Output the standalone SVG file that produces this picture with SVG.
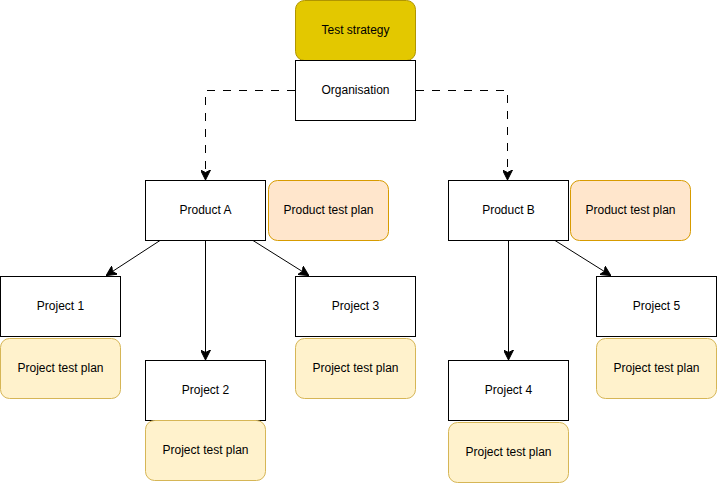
<svg xmlns="http://www.w3.org/2000/svg" width="717" height="483" viewBox="0 0 717 483">
<defs>
<style>
.box{fill:#ffffff;stroke:#000000;stroke-width:1}
.strat{fill:#e3c800;stroke:#b09500;stroke-width:1}
.prod{fill:#ffe6cc;stroke:#d79b00;stroke-width:1}
.proj{fill:#fff2cc;stroke:#d6b656;stroke-width:1}
text{font-family:"Liberation Sans",Arial,sans-serif;font-size:12px;fill:#000000;text-anchor:middle;dominant-baseline:central}
.edge{fill:none;stroke:#000000;stroke-width:1}
.dash{stroke-dasharray:8 8}
</style>
<marker id="arr" viewBox="0 0 10 10" refX="9" refY="5" markerWidth="10" markerHeight="10" markerUnits="userSpaceOnUse" orient="auto">
<path d="M0,0 L10,5 L0,10 L2.5,5 Z" fill="#000000" stroke="#000000" stroke-width="1"/>
</marker>
</defs>
<rect width="717" height="483" fill="#ffffff"/>
<g id="connectors">
<path class="edge dash" d="M295,90.5 H205.5 V179" marker-end="url(#arr)"/>
<path class="edge dash" d="M416,90.5 H507.5 V179" marker-end="url(#arr)"/>
<path class="edge" d="M160,240.5 L107,275" marker-end="url(#arr)"/>
<path class="edge" d="M205.5,240.5 V359" marker-end="url(#arr)"/>
<path class="edge" d="M253,240.5 L308,275" marker-end="url(#arr)"/>
<path class="edge" d="M508.5,240.5 V359" marker-end="url(#arr)"/>
<path class="edge" d="M555,240.5 L610,275" marker-end="url(#arr)"/>
</g>
<g id="test-strategy"><rect class="strat" x="295.5" y="0.5" width="120" height="60" rx="9"/><text x="355.5" y="29.5">Test strategy</text></g>
<g id="organisation"><rect class="box" x="295.5" y="60.5" width="120" height="60"/><text x="355.5" y="89.5">Organisation</text></g>
<g id="product-a"><rect class="box" x="145.5" y="180.5" width="120" height="60"/><text x="205.5" y="209.5">Product A</text></g>
<g id="product-a-plan"><rect class="prod" x="268.5" y="180.5" width="120" height="60" rx="9"/><text x="328.5" y="209.5">Product test plan</text></g>
<g id="project-1"><rect class="box" x="0.5" y="276.5" width="120" height="60"/><text x="60.5" y="305.5">Project 1</text></g>
<g id="project-1-plan"><rect class="proj" x="0.5" y="338.5" width="120" height="60" rx="9"/><text x="60.5" y="367.5">Project test plan</text></g>
<g id="project-2"><rect class="box" x="145.5" y="360.5" width="120" height="60"/><text x="205.5" y="389.5">Project 2</text></g>
<g id="project-2-plan"><rect class="proj" x="145.5" y="420.5" width="120" height="60" rx="9"/><text x="205.5" y="449.5">Project test plan</text></g>
<g id="project-3"><rect class="box" x="295.5" y="276.5" width="120" height="60"/><text x="355.5" y="305.5">Project 3</text></g>
<g id="project-3-plan"><rect class="proj" x="295.5" y="338.5" width="120" height="60" rx="9"/><text x="355.5" y="367.5">Project test plan</text></g>
<g id="product-b"><rect class="box" x="448.5" y="180.5" width="120" height="60"/><text x="508.5" y="209.5">Product B</text></g>
<g id="product-b-plan"><rect class="prod" x="570.5" y="180.5" width="120" height="60" rx="9"/><text x="630.5" y="209.5">Product test plan</text></g>
<g id="project-4"><rect class="box" x="448.5" y="360.5" width="120" height="60"/><text x="508.5" y="389.5">Project 4</text></g>
<g id="project-4-plan"><rect class="proj" x="448.5" y="422.5" width="120" height="60" rx="9"/><text x="508.5" y="451.5">Project test plan</text></g>
<g id="project-5"><rect class="box" x="596.5" y="276.5" width="120" height="60"/><text x="656.5" y="305.5">Project 5</text></g>
<g id="project-5-plan"><rect class="proj" x="596.5" y="338.5" width="120" height="60" rx="9"/><text x="656.5" y="367.5">Project test plan</text></g>
</svg>
